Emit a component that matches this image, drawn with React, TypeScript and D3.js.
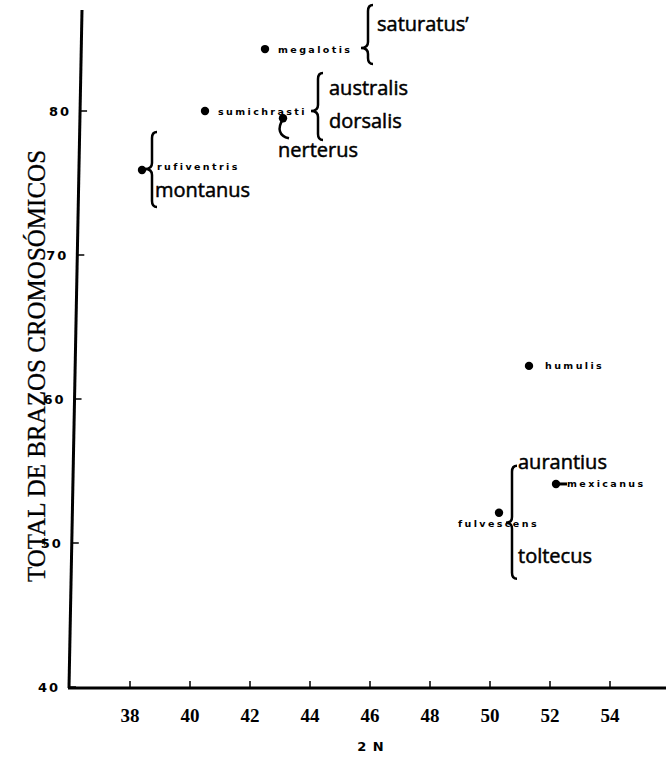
import React from "react";
import * as d3 from "d3";

const xTicks = [38, 40, 42, 44, 46, 48, 50, 52, 54];
const yTicks = [40, 50, 60, 70, 80];
const pointNames = ["megalotis", "sumichrasti", "nerterus", "rufiventris", "humulis", "mexicanus", "fulvescens"];
const diploidNumber = [42.5, 40.5, 43.1, 38.4, 51.3, 52.2, 50.3];
const armNumber = [84.3, 80.0, 79.5, 75.9, 62.3, 54.1, 52.1];
const megalotisSubspecies = ["saturatus\u2019"];
const sumichrastiSubspecies = ["australis", "dorsalis"];
const nerterusSubspecies = ["nerterus"];
const rufiventrisSubspecies = ["montanus"];
const fulvescensSubspecies = ["aurantius", "toltecus"];
const xTitle = "2 N";
const yTitle = "TOTAL DE BRAZOS CROMOSÓMICOS";

const W = 666;
const H = 764;

const x = d3.scaleLinear().domain([38, 54]).range([130, 610]);
const y = d3.scaleLinear().domain([40, 80]).range([687, 111]);

const axisTop = 10;
const axisBottom = 688;
const axisX = (py: number) => 82 - ((py - axisTop) * 13) / (axisBottom - axisTop);

function brace(bx: number, y0: number, y1: number, ym: number, w: number) {
  const c = 5;
  return `M${bx + c},${y0} Q${bx},${y0} ${bx},${y0 + 6} L${bx},${ym - 6} Q${bx},${ym} ${bx - w},${ym} Q${bx},${ym} ${bx},${ym + 6} L${bx},${y1 - 6} Q${bx},${y1} ${bx + c},${y1}`;
}

const small: React.CSSProperties = {
  fontFamily: "'DejaVu Sans', sans-serif",
  fontWeight: 700,
  fontSize: 9.5,
  letterSpacing: 2.4,
};
const big: React.CSSProperties = {
  fontFamily: "'Open Sans', sans-serif",
  fontSize: 20,
  stroke: "#000",
  strokeWidth: 0.5,
};

export default function App() {
  const pts = pointNames.map((n, i) => ({ name: n, px: x(diploidNumber[i]), py: y(armNumber[i]) }));
  const P = (n: string) => pts.find((p) => p.name === n)!;
  const meg = P("megalotis");
  const sum = P("sumichrasti");
  const ner = P("nerterus");
  const ruf = P("rufiventris");
  const hum = P("humulis");
  const mex = P("mexicanus");
  const ful = P("fulvescens");

  return (
    <svg width={W} height={H} style={{ display: "block", position: "absolute", left: 0, top: 0, background: "#fff" }}>
      <rect width={W} height={H} fill="#fff" />
      {/* axes */}
      <line x1={axisX(axisTop)} y1={axisTop} x2={axisX(axisBottom)} y2={axisBottom} stroke="#000" strokeWidth={3} />
      <line x1={axisX(axisBottom) - 1} y1={axisBottom} x2={W} y2={axisBottom} stroke="#000" strokeWidth={3} />
      {yTicks.map((t) => {
        const py = y(t);
        const ax = axisX(py);
        return (
          <g key={"y" + t}>
            <line x1={ax} y1={py} x2={ax + 7} y2={py} stroke="#000" strokeWidth={1.5} />
            <text x={ax - 9} y={py + 5} textAnchor="end" style={{ fontFamily: "'DejaVu Sans', sans-serif", fontWeight: 700, fontSize: 13, letterSpacing: 2 }}>
              {t}
            </text>
          </g>
        );
      })}
      {xTicks.map((t) => (
        <g key={"x" + t}>
          <line x1={x(t)} y1={axisBottom} x2={x(t)} y2={axisBottom - 7} stroke="#000" strokeWidth={1.5} />
          <text x={x(t)} y={722} textAnchor="middle" style={{ fontFamily: "'Liberation Serif', serif", fontWeight: 700, fontSize: 19 }}>
            {t}
          </text>
        </g>
      ))}
      <text x={371} y={751} textAnchor="middle" style={{ fontFamily: "'DejaVu Sans', sans-serif", fontWeight: 700, fontSize: 13, letterSpacing: 1 }}>
        {xTitle}
      </text>
      <text transform="translate(45,366) rotate(-90)" textAnchor="middle" style={{ fontFamily: "'Liberation Serif', serif", fontSize: 25, stroke: "#000", strokeWidth: 0.3 }}>
        {yTitle}
      </text>

      {/* points */}
      {pts.map((p) => (
        <circle key={p.name} cx={p.px} cy={p.py} r={4.2} fill="#000" />
      ))}

      {/* megalotis */}
      <text x={meg.px + 13} y={meg.py + 3.5} style={small}>{meg.name}</text>
      <path d={brace(meg.px + 103, meg.py - 44, meg.py + 15, meg.py - 1, 7)} fill="none" stroke="#000" strokeWidth={2.5} />
      <text x={meg.px + 112} y={meg.py - 18} style={big}>{megalotisSubspecies[0]}</text>

      {/* sumichrasti */}
      <text x={sum.px + 13} y={sum.py + 3.5} style={small}>{sum.name}</text>
      <path d={brace(sum.px + 113, sum.py - 38, sum.py + 29, sum.py, 7)} fill="none" stroke="#000" strokeWidth={2.5} />
      <text x={sum.px + 124} y={sum.py - 16} style={big}>{sumichrastiSubspecies[0]}</text>
      <text x={sum.px + 124} y={sum.py + 17} style={big}>{sumichrastiSubspecies[1]}</text>

      {/* nerterus */}
      <path d={`M${ner.px},${ner.py + 1} C${ner.px - 6},${ner.py + 10} ${ner.px - 4},${ner.py + 18} ${ner.px + 6},${ner.py + 20}`} fill="none" stroke="#000" strokeWidth={2.5} />
      <text x={ner.px - 5} y={ner.py + 39} style={big}>{nerterusSubspecies[0]}</text>

      {/* rufiventris */}
      <path d={brace(ruf.px + 10, ruf.py - 38, ruf.py + 37, ruf.py - 1, 7)} fill="none" stroke="#000" strokeWidth={2.5} />
      <text x={ruf.px + 15} y={ruf.py} style={small}>{ruf.name}</text>
      <text x={ruf.px + 13} y={ruf.py + 27} style={big}>{rufiventrisSubspecies[0]}</text>

      {/* humulis */}
      <text x={hum.px + 16} y={hum.py + 3.5} style={small}>{hum.name}</text>

      {/* mexicanus */}
      <line x1={mex.px} y1={mex.py} x2={mex.px + 11} y2={mex.py} stroke="#000" strokeWidth={3} />
      <text x={mex.px + 11} y={mex.py + 3.5} style={small}>{mex.name}</text>

      {/* fulvescens */}
      <path d={brace(ful.px + 13, ful.py - 47, ful.py + 66, ful.py + 10, 6)} fill="none" stroke="#000" strokeWidth={2.5} />
      <text x={ful.px - 41} y={ful.py + 14} style={small}>{ful.name}</text>
      <text x={ful.px + 19} y={ful.py - 44} style={big}>{fulvescensSubspecies[0]}</text>
      <text x={ful.px + 19} y={ful.py + 50} style={big}>{fulvescensSubspecies[1]}</text>
    </svg>
  );
}
